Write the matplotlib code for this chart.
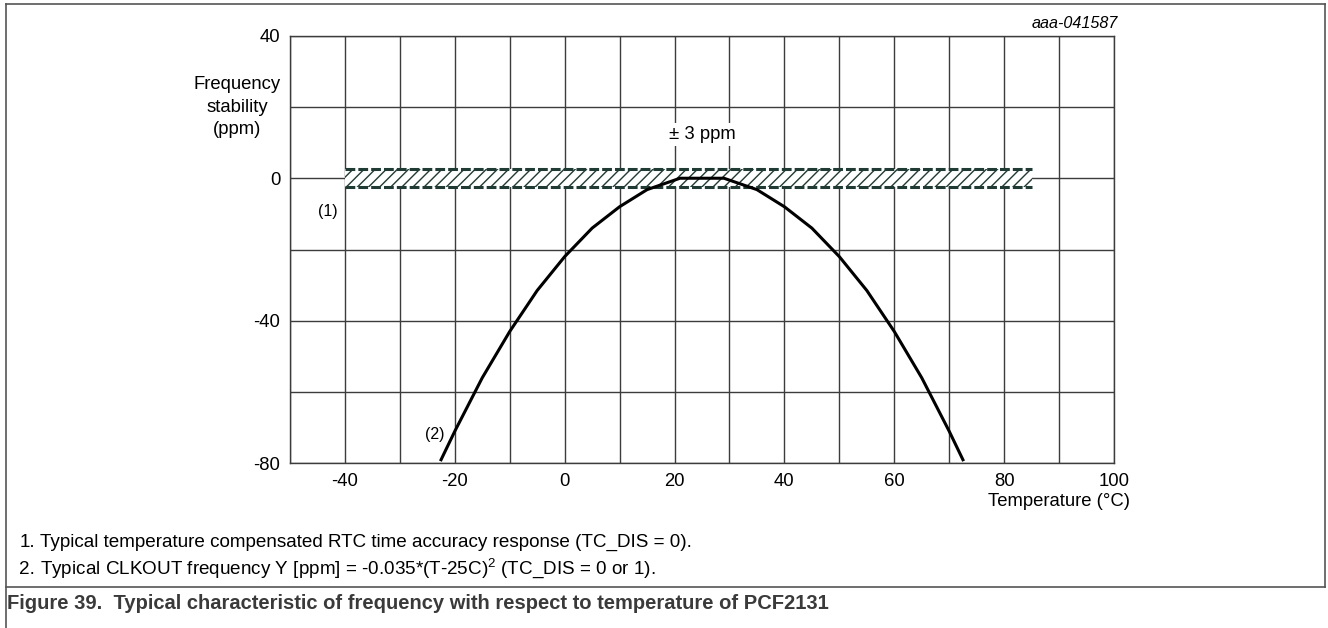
import matplotlib
matplotlib.use("Agg")
import matplotlib.pyplot as plt
from matplotlib.lines import Line2D

# Curve (2): typical CLKOUT frequency vs temperature
temp_c = [-22.5, -20, -15, -10, -5, 0, 5, 10, 15, 21, 29, 35, 40, 45, 50, 55, 60, 65, 70, 72.5]
freq_ppm = [-79, -71, -56, -43, -31.5, -22, -14, -8, -3.2, 0, 0, -3.2, -8, -14, -22, -31.5, -43, -56, -71, -79]

# Band (1): compensated RTC accuracy
band_temp = [-40, 85]
band_low = -2.5
band_high = 2.5

x_ticks = [-40, -20, 0, 20, 40, 60, 80, 100]
y_ticks = [40, 0, -40, -80]
x_grid = list(range(-50, 101, 10))
y_grid = list(range(-80, 41, 20))

notes = [
    "Typical temperature compensated RTC time accuracy response (TC_DIS = 0).",
    "Typical CLKOUT frequency Y [ppm] = -0.035*(T-25C)$^{2}$ (TC_DIS = 0 or 1).",
]
caption = "Figure 39.  Typical characteristic of frequency with respect to temperature of PCF2131"

plt.rcParams.update({
    "font.family": ["Liberation Sans", "DejaVu Sans"],
    "mathtext.fontset": "custom",
    "mathtext.rm": "Liberation Sans",
    "mathtext.default": "regular",
    "hatch.linewidth": 1.0,
})

band_col = "#1f3b34"
grid_col = "#3c3c3c"

fig = plt.figure(figsize=(13.28, 6.28), dpi=100)
ax = fig.add_axes([290 / 1328, 1 - 463.3 / 628, 824 / 1328, 427.6 / 628])

ax.set_xlim(-50, 100)
ax.set_ylim(-80, 40)

for xv in x_grid:
    ax.axvline(xv, color=grid_col, lw=1.0, zorder=1)
for yv in y_grid:
    ax.axhline(yv, color=grid_col, lw=1.0, zorder=1)

# hatched band with dashed edges
ax.fill_between(band_temp, band_low, band_high, facecolor="white", edgecolor=band_col,
                hatch="///", linewidth=0, zorder=2)
ax.plot(band_temp, [band_high, band_high], color=band_col, lw=2.2, ls=(0, (3.2, 1.0)), zorder=3)
ax.plot(band_temp, [band_low, band_low], color=band_col, lw=2.2, ls=(0, (3.2, 1.0)), zorder=3)

ax.plot(temp_c, freq_ppm, color="black", lw=2.2, zorder=4, solid_joinstyle="miter")

ax.set_xticks(x_ticks)
ax.set_yticks(y_ticks)
ax.set_xticklabels([str(v) for v in x_ticks])
ax.set_yticklabels([str(v) for v in y_ticks])
ax.tick_params(length=0, labelsize=13.3, pad=7)
for s in ax.spines.values():
    s.set_color(grid_col)
    s.set_linewidth(1.0)

ax.text(25, 12.2, "± 3 ppm", ha="center", va="center", fontsize=13.3, zorder=5,
        bbox=dict(facecolor="white", edgecolor="none", pad=2))
ax.text(-41.3, -9.4, "(1)", ha="right", va="center", fontsize=11.5)
ax.text(-21.8, -71.8, "(2)", ha="right", va="center", fontsize=11.5)

fig.text(237 / 1328, 1 - 107 / 628, "Frequency\nstability\n(ppm)", ha="center", va="center",
         fontsize=13.3, linespacing=1.4)
fig.text(1130 / 1328, 1 - 501.7 / 628, "Temperature (°C)", ha="right", va="center", fontsize=13.3)
fig.text(1118 / 1328, 1 - 24 / 628, "aaa-041587", ha="right", va="center", fontsize=11.6,
         style="italic")

# notes and caption (baseline aligned)
for i, note in enumerate(notes):
    y = 1 - (547 + 27 * i) / 628
    fig.text(35 / 1328, y, f"{i + 1}.", ha="right", va="baseline", fontsize=13.6)
    fig.text(40 / 1328, y, note, ha="left", va="baseline", fontsize=13.6)
fig.text(7 / 1328, 1 - 609 / 628, caption, ha="left", va="baseline", fontsize=14.5,
         fontweight="bold", color="#3a3a3a")

# figure frame
frame_col = "#555555"
fig.add_artist(Line2D([5.5 / 1328, 1325 / 1328], [1 - 4.3 / 628, 1 - 4.3 / 628],
                      color=frame_col, lw=1.2))
fig.add_artist(Line2D([5.5 / 1328, 5.5 / 1328], [0, 1 - 4.3 / 628], color=frame_col, lw=1.2))
fig.add_artist(Line2D([1325 / 1328, 1325 / 1328], [1 - 587 / 628, 1 - 4.3 / 628],
                      color=frame_col, lw=1.2))
fig.add_artist(Line2D([5.5 / 1328, 1325 / 1328], [1 - 587 / 628, 1 - 587 / 628],
                      color=frame_col, lw=1.2))

fig.savefig("out.png", dpi=100)
